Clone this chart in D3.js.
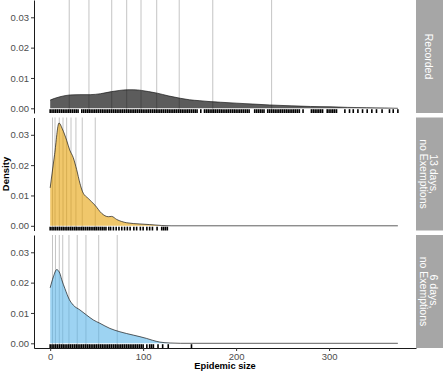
<!DOCTYPE html>
<html><head><meta charset="utf-8">
<script src="https://cdn.jsdelivr.net/npm/d3@7"></script>
<style>body{margin:0;background:#fff}svg{display:block}text{font-family:"Liberation Sans",Arial,sans-serif}</style>
</head><body><svg id="c" width="446" height="371"></svg>
<script>
// ---- data ----
const panelLabels = [["Recorded"], ["13 days,", "no Exemptions"], ["6 days,", "no Exemptions"]];
const panelFills = ["#000000", "#E69F00", "#56B4E9"];
const xTicks = [0, 100, 200, 300];
const yTicks = [0, 0.01, 0.02, 0.03];

const recordedSize    = [0, 5, 10.5, 21.5, 32, 43, 54, 66, 75, 83, 90, 98, 106, 115, 127, 140, 150, 161, 172, 183, 200, 218, 236, 260, 280, 301, 320, 340, 360, 374];
const recordedDensity = [0.0027, 0.0033, 0.0038, 0.0044, 0.0045, 0.0045, 0.0048, 0.0055, 0.0059, 0.0061, 0.0061, 0.0059, 0.0055, 0.005, 0.0041, 0.0033, 0.0028, 0.0025, 0.0022, 0.002, 0.0017, 0.0014, 0.0011, 0.0008, 0.0006, 0.0005, 0.0003, 0.0002, 0.0001, 0];

const d13Size    = [0, 4.75, 9.5, 13, 17.7, 21, 24.8, 28.5, 32, 34.9, 41, 48.2, 55.4, 62.5, 66.1, 71.5, 82.3, 96.6, 107, 120, 130, 374];
const d13Density = [0.0125, 0.0235, 0.0339, 0.032, 0.0282, 0.025, 0.0225, 0.0185, 0.014, 0.0112, 0.009, 0.0068, 0.0041, 0.003, 0.0031, 0.0021, 0.001, 0.0006, 0.0004, 0.0001, 0, 0];

const d6Size    = [0, 3.4, 7, 10.5, 12.3, 15.9, 20.5, 24.8, 32, 39.2, 46.4, 53.5, 64.3, 75, 89.4, 103.8, 110, 118, 129, 140, 374];
const d6Density = [0.0183, 0.0219, 0.0243, 0.023, 0.0211, 0.018, 0.0145, 0.0126, 0.011, 0.0093, 0.0077, 0.0066, 0.0049, 0.0038, 0.0027, 0.0016, 0.001, 0.0004, 0.0001, 0, 0];

const recordedQuantiles = [20.5, 41.7, 66.2, 82.3, 97.7, 114.6, 138.8, 174.9, 238.2];
const d13Quantiles = [2.5, 5.2, 9.8, 13.8, 17.7, 22.4, 27.7, 34.5, 48.5];
const d6Quantiles  = [2.5, 5.7, 9.8, 13.5, 20.2, 29.1, 38.5, 52.2, 72.1];

const recordedRug = [0,2,4,6,8,10,12,14,16,18,20,22,24,26,28,30,34,36,38,40,42,44,46,48,50,52,54,56,58,60,62,64,66,68,70,72,74,76,78,80,82,84,86,88,90,92,94,96,98,100,102,104,106,108,110,112,114,116,118,120,122,124,126,128,130,132,134,136,138,140,142,144,146,148,150,152,154,156,158,162,166,168,170,172,174,176,178,180,182,184,186,188,190,192,194,196,198,200,202,204,206,208,210,212,214,220,222,224,226,228,230,234,236,238,240,242,244,246,248,250,252,254,256,258,260,262,264,266,268,272,281,283,285,287,289,291,293,298,300,302,304,306,308,317,322,326,331,336,341,346,351,357,365,369,374];
const d13Rug = [0,2,4,6,8,10,12,14,16,18,20,22,24,26,28,30,32,34,36,38,40,42,44,46,48,50,52,54,56,58,60,63,65,68,71,74,77,80,83,86,90,93,97,100,104,107,110,115,120,122,124,126];
const d6Rug = [0,2,4,6,8,10,12,14,16,18,20,22,24,26,28,30,32,34,36,38,40,42,44,46,48,50,52,54,56,58,60,62,64,66,68,70,72,74,76,78,80,82,84,86,88,90,92,94,96,98,100,104,107,109,111,116,121,127,152];

// ---- layout ----
const svg = d3.select("#c");
const left = 34, right = 416, panelH = 113;
const panelTops = [0, 117.5, 235];
const x = d3.scaleLinear().domain([-17.4, 393.5]).range([left, right]);
const y = d3.scaleLinear().domain([-0.00155, 0.0357]).range([panelH, 0]);

const panels = [
  {size: recordedSize, dens: recordedDensity, q: recordedQuantiles, rug: recordedRug},
  {size: d13Size, dens: d13Density, q: d13Quantiles, rug: d13Rug},
  {size: d6Size, dens: d6Density, q: d6Quantiles, rug: d6Rug}
];

panels.forEach((p, i) => {
  const g = svg.append("g").attr("transform", `translate(0,${panelTops[i]})`);
  const pts = p.size.map((s, k) => [s, p.dens[k]]);
  // quantile lines
  g.selectAll("line.q").data(p.q).join("line")
    .attr("x1", d => x(d)).attr("x2", d => x(d))
    .attr("y1", 0).attr("y2", panelH)
    .attr("stroke", "#bdbdbd").attr("stroke-width", 0.9);
  // density
  const area = d3.area().x(d => x(d[0])).y0(y(0)).y1(d => y(d[1])).curve(d3.curveMonotoneX);
  const line = d3.line().x(d => x(d[0])).y(d => y(d[1])).curve(d3.curveMonotoneX);
  g.append("path").attr("d", area(pts)).attr("fill", panelFills[i]).attr("fill-opacity", i === 0 ? 0.64 : 0.58);
  g.append("path").attr("d", line(pts)).attr("fill", "none").attr("stroke", "#1a1a1a").attr("stroke-width", 0.7);
  // rug
  g.selectAll("line.r").data(p.rug).join("line")
    .attr("x1", d => x(d)).attr("x2", d => x(d))
    .attr("y1", panelH - 3.8).attr("y2", panelH)
    .attr("stroke", "#000").attr("stroke-width", 1.6);
  // y axis
  const ya = g.append("g").attr("transform", `translate(${left},0)`)
    .call(d3.axisLeft(y).tickValues(yTicks).tickFormat(d3.format(".2f")).tickSize(3).tickSizeOuter(0).tickPadding(2));
  ya.select(".domain").attr("stroke", "#000").attr("stroke-width", 0.9);
  ya.selectAll(".tick line").attr("stroke", "#333");
  ya.selectAll(".tick text").attr("fill", "#4d4d4d").style("font-size", "9.5px").style("font-family", '"Liberation Sans",Arial,sans-serif');
  // strip
  const sg = svg.append("g");
  sg.append("rect").attr("x", right).attr("y", panelTops[i]).attr("width", 27).attr("height", panelH).attr("fill", "#a6a6a6");
  const cx = 429, cy = panelTops[i] + panelH / 2;
  const lines = panelLabels[i];
  const t = sg.append("text").attr("transform", `translate(${cx},${cy}) rotate(90)`)
    .attr("text-anchor", "middle").attr("fill", "#fff").style("font-size", "10.5px");
  lines.forEach((s, k) => {
    t.append("tspan").attr("x", 0).attr("y", (k - (lines.length - 1) / 2) * 10 + 3.7).text(s);
  });
  // bottom axis on last panel
  if (i === panels.length - 1) {
    const xa = g.append("g").attr("transform", `translate(0,${panelH})`)
      .call(d3.axisBottom(x).tickValues(xTicks).tickSize(3).tickSizeOuter(0).tickPadding(2));
    xa.select(".domain").attr("stroke", "#000").attr("stroke-width", 0.9);
    xa.selectAll(".tick line").attr("stroke", "#333");
    xa.selectAll(".tick text").attr("fill", "#4d4d4d").style("font-size", "9.5px").style("font-family", '"Liberation Sans",Arial,sans-serif');
  }
});

svg.append("text").attr("x", (left + right) / 2).attr("y", 368.5).attr("text-anchor", "middle")
  .style("font-size", "9.3px").style("font-weight", "bold").attr("fill", "#000").text("Epidemic size");
svg.append("text").attr("transform", `translate(9.3,174) rotate(-90)`).attr("text-anchor", "middle")
  .style("font-size", "9.5px").style("font-weight", "bold").attr("fill", "#000").text("Density");
</script></body></html>
